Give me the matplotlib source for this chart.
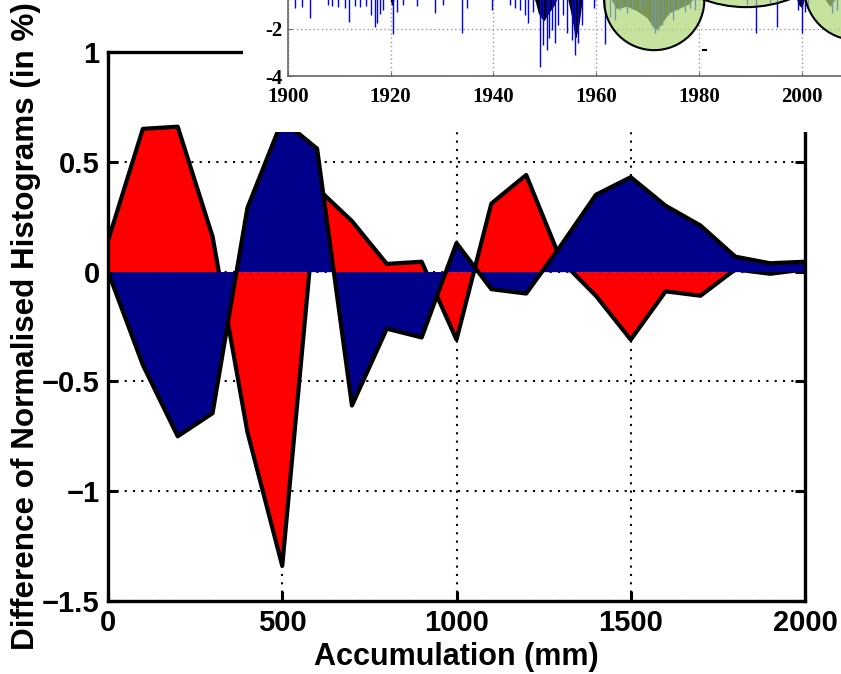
import matplotlib
matplotlib.use("Agg")
import matplotlib.pyplot as plt
from matplotlib.patches import Ellipse

# main chart: difference of normalised histograms, one value every 100 mm
accum = [0, 100, 200, 300, 400, 500, 600, 700, 800, 900, 1000,
         1100, 1200, 1300, 1400, 1500, 1600, 1700, 1800, 1900, 2000]
diff_red = [0.14, 0.65, 0.66, 0.16, -0.73, -1.34, 0.38, 0.23, 0.035, 0.045, -0.31,
            0.31, 0.44, 0.05, -0.11, -0.31, -0.09, -0.11, 0.01, -0.01, 0.01]
diff_blue = [0.0, -0.425, -0.75, -0.645, 0.29, 0.69, 0.56, -0.61, -0.26, -0.30, 0.13,
             -0.08, -0.10, 0.12, 0.35, 0.43, 0.30, 0.21, 0.068, 0.038, 0.045]

xticks = [0, 500, 1000, 1500, 2000]
yticks = [-1.5, -1, -0.5, 0, 0.5, 1]
yticklabels = ["\u22121.5", "\u22121", "\u22120.5", "0", "0.5", "1"]

# inset: index time series (only the lower part is visible)
spike_year = [1901.4, 1902.7, 1904.3, 1907.9, 1908.6, 1909.8, 1911.1, 1912.0, 1913.1,
              1914.1, 1915.2, 1916.3, 1916.9, 1917.4, 1918.0, 1918.5, 1920.5, 1921.2,
              1922.5, 1925.1, 1928.7, 1930.3, 1933.9, 1934.8, 1939.7, 1943.3, 1944.2,
              1945.2, 1946.2, 1946.8, 1947.8, 1949.1, 1949.7, 1950.4, 1950.9, 1951.4,
              1952.0, 1952.6, 1953.6, 1954.3, 1955.3, 1955.9, 1956.5, 1957.2, 1959.5,
              1961.7, 1962.7, 1963.7, 1964.7, 1966.0, 1966.9, 1968.5, 1969.5, 1970.8,
              1971.5, 1972.1, 1972.8, 1974.0, 1975.0, 1976.0, 1977.3, 1978.3, 1979.3,
              1989.3, 1991.2, 1993.8, 1995.1, 1999.3, 2000.0, 2000.6, 2001.3, 2005.8,
              2006.8]
spike_depth = [-1.12, -1.05, -1.54, -0.98, -1.02, -1.06, -1.11, -1.70, -1.02,
               -1.06, -1.02, -1.40, -1.91, -1.74, -1.36, -1.19, -2.21, -1.28,
               -0.98, -1.02, -1.32, -0.98, -2.17, -1.11, -1.19, -0.98, -1.11,
               -1.19, -1.40, -1.74, -1.28, -3.62, -2.68, -2.89, -2.38, -2.04,
               -2.60, -1.83, -1.40, -2.17, -2.47, -3.11, -2.60, -1.83, -1.11,
               -2.65, -1.49, -1.62, -1.19, -1.32, -1.11, -1.19, -0.98, -1.83,
               -2.17, -2.04, -1.83, -1.40, -1.62, -1.19, -1.28, -1.11, -1.19,
               -0.98, -2.17, -0.90, -1.91, -1.19, -2.17, -1.28, -1.11, -1.32,
               -1.19]
env_year = [1919.8, 1920.3, 1920.8, 1947.8, 1948.4, 1948.9, 1949.8, 1950.8, 1951.8,
            1952.6, 1954.4, 1955.0, 1955.5, 1956.0, 1956.6, 1957.3, 1962.5, 1964.0,
            1966.0, 1968.0, 1970.0, 1971.5, 1972.5, 1974.0, 1976.0, 1978.0, 1979.5,
            1998.8, 1999.5, 2000.0, 2000.6, 2004.0, 2005.5, 2007.0]
env_val = [-0.5, -0.95, -0.5, -0.5, -0.9, -1.33, -1.62, -1.26, -0.95,
           -0.5, -0.5, -1.1, -1.6, -2.34, -1.7, -0.5, -0.5, -1.1,
           -1.0, -1.2, -1.5, -2.0, -1.8, -1.3, -1.1, -0.9, -0.5,
           -0.5, -0.95, -1.05, -0.5, -0.5, -1.0, -0.5]
# highlighted periods (centre year, centre value, width in years, height in index units)
circle_year = [1971.3, 1989.2, 2010.6]
circle_val = [-0.77, 4.21, -0.26]
circle_w = [19.5, 48.2, 20.2]
circle_h = [4.26, 10.56, 4.42]
inset_xticks = [1900, 1920, 1940, 1960, 1980, 2000]
inset_yticks = [-4, -2]
inset_yticklabels = ["-4", "-2"]

red = "#FF0000"
navy = "#00008B"

fig = plt.figure(figsize=(8.41, 6.74), dpi=100)
W, H = 841, 674

ax = fig.add_axes([108 / W, 1 - 601 / H, (805 - 108) / W, (601 - 52) / H])
# each area is drawn with its outline before the next one (blue covers red)
ax.fill_between(accum, diff_red, 0, color=red, lw=0, zorder=2)
ax.plot(accum, diff_red, color="black", lw=3, zorder=3)
ax.fill_between(accum, diff_blue, 0, color=navy, lw=0, zorder=4)
ax.plot(accum, diff_blue, color="black", lw=3, zorder=5)

ax.set_xlim(0, 2000)
ax.set_ylim(-1.5, 1)
ax.set_xticks(xticks)
ax.set_yticks(yticks, labels=yticklabels)
ax.grid(True, color="black", linestyle=(0, (1, 3)), lw=1.5, zorder=1)
ax.set_axisbelow(True)
for s in ax.spines.values():
    s.set_linewidth(2.4)
    s.set_zorder(6)
ax.tick_params(direction="in", length=7, width=2.2, top=True, right=True,
               labelsize=21, pad=6)
for lab in ax.get_xticklabels() + ax.get_yticklabels():
    lab.set_fontfamily("Liberation Sans")
    lab.set_fontweight("bold")
ax.set_xlabel("Accumulation (mm)", fontsize=22, fontweight="bold",
              family="Liberation Sans", labelpad=3)
ax.set_ylabel("Difference of Normalised Histograms (in %)", fontsize=22.6,
              fontweight="bold", family="Liberation Sans", labelpad=1)

# white panel holding the inset
bg = fig.add_axes([243 / W, 1 - 132 / H, (W - 243) / W, 132 / H])
bg.set_facecolor("white")
bg.set_xticks([])
bg.set_yticks([])
for s in bg.spines.values():
    s.set_visible(False)

x0, y0 = 287.7, 76
px_yr, px_unit = 5.14, 23.5
xmin, xmax, ymin, ymax = 1900, 2012, -4, 2
axi = fig.add_axes([x0 / W, 1 - y0 / H, (xmax - xmin) * px_yr / W, (ymax - ymin) * px_unit / H])
axi.fill_between(env_year, env_val, 0, color="black", lw=1, zorder=2)
axi.vlines(spike_year, 0, spike_depth, color="blue", lw=1, zorder=3)
axi.plot([1980.8, 1981.3], [-2.89, -2.89], color="black", lw=1.5, zorder=3)
for cx, cy, cw, ch in zip(circle_year, circle_val, circle_w, circle_h):
    axi.add_patch(Ellipse((cx, cy), cw, ch, facecolor=(174 / 255, 214 / 255, 119 / 255, 0.7),
                          edgecolor="black", lw=1.5, zorder=4))
axi.set_xlim(xmin, xmax)
axi.set_ylim(ymin, ymax)
axi.set_xticks(inset_xticks)
axi.set_yticks(inset_yticks, labels=inset_yticklabels)
axi.grid(True, color="#999999", linestyle=(0, (1, 2)), lw=1, zorder=1)
axi.set_axisbelow(True)
for name in ["top", "right"]:
    axi.spines[name].set_visible(False)
for name in ["left", "bottom"]:
    axi.spines[name].set_color("#666666")
    axi.spines[name].set_linewidth(1.2)
axi.tick_params(direction="in", length=3, color="#666666", labelsize=15, pad=4)
axi.tick_params(axis="x", pad=8)
for lab in axi.get_xticklabels() + axi.get_yticklabels():
    lab.set_fontfamily("Liberation Serif")
    lab.set_fontweight("bold")

fig.savefig("out.png", dpi=100)
